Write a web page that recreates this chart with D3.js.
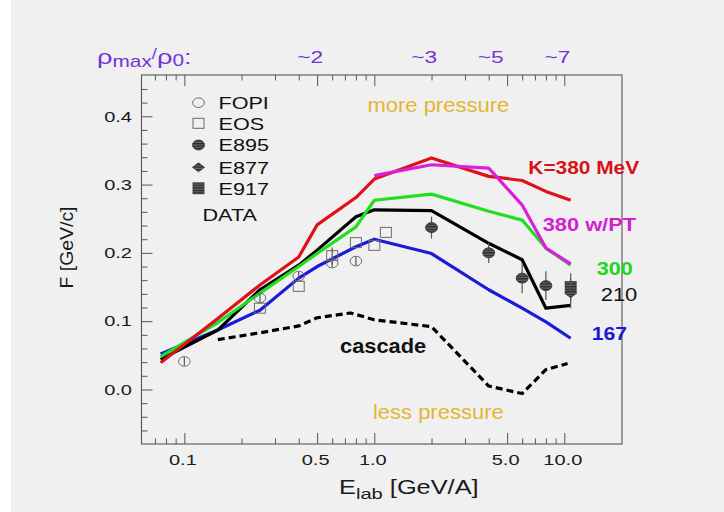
<!DOCTYPE html>
<html>
<head>
<meta charset="utf-8">
<script src="https://cdn.jsdelivr.net/npm/d3@7"></script>
<style>
  html, body { margin: 0; padding: 0; background: #ffffff; }
  svg { display: block; }
</style>
</head>
<body>
<svg id="chart" width="724" height="512"></svg>
<script>
// ---- Model curves: transverse flow F [GeV/c] vs beam energy E_lab [GeV/A] ----
const energies = [0.075, 0.15, 0.25, 0.4, 0.5, 0.8, 1.0, 2.0, 4.0, 6.0, 8.0, 10.8];
const fK380 = [0.039, 0.104, 0.153, 0.194, 0.241, 0.281, 0.308, 0.339, 0.312, 0.306, 0.290, 0.277];
const fK300 = [0.048, 0.098, 0.141, 0.180, 0.199, 0.238, 0.277, 0.286, 0.261, 0.248, 0.207, 0.182];
const fK210 = [0.044, 0.087, 0.146, 0.182, 0.204, 0.253, 0.263, 0.262, 0.214, 0.190, 0.119, 0.123];
const fK167 = [0.052, 0.087, 0.116, 0.163, 0.180, 0.209, 0.220, 0.199, 0.146, 0.119, 0.099, 0.075];

const energiesPT = [1.0, 2.0, 4.0, 6.0, 8.0, 10.8];
const fK380PT = [0.313, 0.329, 0.324, 0.270, 0.207, 0.184];

const energiesCascade = [0.15, 0.25, 0.4, 0.5, 0.75, 1.0, 2.0, 4.0, 6.0, 8.0, 10.4];
const fCascade = [0.073, 0.083, 0.093, 0.105, 0.112, 0.102, 0.092, 0.005, -0.006, 0.029, 0.038];

// ---- Measurements ----
const fopiE = [0.1, 0.25, 0.4, 0.6, 0.8];
const fopiF = [0.041, 0.134, 0.166, 0.185, 0.188];
const fopiErr = [0.006, 0.006, 0.006, 0.006, 0.006];

const eosE = [0.25, 0.4, 0.6, 0.8, 1.0, 1.15];
const eosF = [0.119, 0.151, 0.196, 0.215, 0.211, 0.230];
const eosErr = [0.0, 0.0, 0.012, 0.0, 0.0, 0.0];

const e895E = [2.0, 4.0, 6.0, 8.0];
const e895F = [0.237, 0.200, 0.163, 0.152];
const e895Err = [0.016, 0.015, 0.022, 0.021];

const e877E = [10.8];
const e877F = [0.141];
const e877Err = [0.022];

const e917E = [10.8];
const e917F = [0.150];
const e917Err = [0.020];

// ---- Axis ticks and annotations ----
const xMajorTicks = [0.1, 0.5, 1, 5, 10];
const xTickLabels = ["0.1", "0.5", "1.0", "5.0", "10.0"];
const xMinorTicks = [0.07, 0.08, 0.09, 0.2, 0.3, 0.4, 0.6, 0.7, 0.8, 0.9, 2, 3, 4, 6, 7, 8, 9];
const yMajorTicks = [0.0, 0.1, 0.2, 0.3, 0.4];
const yTickLabels = ["0.0", "0.1", "0.2", "0.3", "0.4"];
const yMinorTicks = [-0.06, -0.04, -0.02, 0.02, 0.04, 0.06, 0.08, 0.12, 0.14, 0.16, 0.18,
                     0.22, 0.24, 0.26, 0.28, 0.32, 0.34, 0.36, 0.38, 0.42, 0.44];
const densityE = [0.46, 1.83, 4.1, 9.2];
const densityLabels = ["~2", "~3", "~5", "~7"];

// ---- Layout ----
const W = 724, H = 512;
const plot = { left: 141.5, right: 622, top: 75, bottom: 444 };
const FONT = "'Liberation Sans', Arial, Helvetica, sans-serif";

const svg = d3.select("#chart");

const x = d3.scaleLog().domain([0.06, 20]).range([142.2, 621.5]);
const y = d3.scaleLinear().domain([-0.08, 0.46]).range([444.1, 75.3]);

// page background
svg.append("rect").attr("x", 0).attr("y", 0).attr("width", W).attr("height", H).attr("fill", "#ffffff");
svg.append("rect").attr("x", 11).attr("y", 0).attr("width", W - 11).attr("height", H).attr("fill", "#f0f0f0");

// patterns for the filled data markers
const defs = svg.append("defs");
const hatch = defs.append("pattern").attr("id", "hatch")
  .attr("patternUnits", "userSpaceOnUse").attr("width", 4).attr("height", 2.6);
hatch.append("rect").attr("width", 4).attr("height", 2.6).attr("fill", "#262626");
hatch.append("line").attr("x1", 0).attr("x2", 4).attr("y1", 1.9).attr("y2", 1.9)
  .attr("stroke", "#9a9a9a").attr("stroke-width", 0.8);

// stretched text helper
function label(g, px, py, text, opts) {
  const o = Object.assign({ size: 14, weight: "normal", fill: "#000", anchor: "start", sx: 1, rotate: 0 }, opts || {});
  const t = g.append("text")
    .attr("transform", `translate(${px},${py}) rotate(${o.rotate}) scale(${o.sx},1)`)
    .attr("font-family", FONT)
    .attr("font-size", o.size)
    .attr("font-weight", o.weight)
    .attr("fill", o.fill)
    .attr("text-anchor", o.anchor);
  if (text !== null) t.text(text);
  return t;
}

// ---- frame and ticks ----
const axes = svg.append("g");

const bottomMajor = d3.axisBottom(x).tickValues(xMajorTicks).tickSize(-11).tickFormat("");
const bottomMinor = d3.axisBottom(x).tickValues(xMinorTicks).tickSize(-5.5).tickFormat("");
const topMajor = d3.axisTop(x).tickValues(xMajorTicks).tickSize(-11).tickFormat("");
const topMinor = d3.axisTop(x).tickValues(xMinorTicks).tickSize(-5.5).tickFormat("");
const leftMajor = d3.axisLeft(y).tickValues(yMajorTicks).tickSize(-11).tickFormat("");
const leftMinor = d3.axisLeft(y).tickValues(yMinorTicks).tickSize(-6).tickFormat("");

function styleAxis(g) {
  g.selectAll("path.domain").remove();
  g.selectAll("line").attr("stroke", "#555").attr("stroke-width", 1);
}
axes.append("g").attr("transform", `translate(0,${plot.bottom})`).call(bottomMajor).call(styleAxis);
axes.append("g").attr("transform", `translate(0,${plot.bottom})`).call(bottomMinor).call(styleAxis);
axes.append("g").attr("transform", `translate(0,${plot.top})`).call(topMajor).call(styleAxis);
axes.append("g").attr("transform", `translate(0,${plot.top})`).call(topMinor).call(styleAxis);
axes.append("g").attr("transform", `translate(${plot.left},0)`).call(leftMajor).call(styleAxis);
axes.append("g").attr("transform", `translate(${plot.left},0)`).call(leftMinor).call(styleAxis);

axes.append("rect")
  .attr("x", plot.left).attr("y", plot.top)
  .attr("width", plot.right - plot.left).attr("height", plot.bottom - plot.top)
  .attr("fill", "none").attr("stroke", "#555").attr("stroke-width", 1.1);

// tick labels
const tickText = svg.append("g");
xMajorTicks.forEach((v, i) => {
  label(tickText, x(v) - 1.5, 464.5, xTickLabels[i], { size: 14.5, anchor: "middle", sx: 1.38, fill: "#1a1a1a" });
});
yMajorTicks.forEach((v, i) => {
  label(tickText, 132, y(v) + 5.3, yTickLabels[i], { size: 14.5, anchor: "end", sx: 1.38, fill: "#1a1a1a" });
});

// axis titles
const xTitle = label(svg, 339, 493.5, null, { size: 19.5, sx: 1.3, fill: "#1a1a1a" });
xTitle.append("tspan").text("E");
xTitle.append("tspan").attr("font-size", 15.5).attr("dy", 5).text("lab");
xTitle.append("tspan").attr("dy", -5).text(" [GeV/A]");

label(svg, 73, 247.5, "F [GeV/c]", { size: 18, anchor: "middle", sx: 1.08, rotate: -90, fill: "#1a1a1a" });

// density annotation along the top
const purple = "#7434d4";
const rho = label(svg, 97, 64, null, { size: 21, sx: 1.3, fill: purple });
rho.append("tspan").text("ρ");
rho.append("tspan").attr("font-size", 16).attr("dy", 3).text("max");
rho.append("tspan").attr("font-size", 14).attr("dy", -8).text("/");
rho.append("tspan").attr("font-size", 21).attr("dy", 5).text("ρ");
rho.append("tspan").attr("font-size", 16).attr("dy", 2).text("0");
rho.append("tspan").attr("font-size", 21).attr("dy", -2).text(":");

densityE.forEach((e, i) => {
  label(svg, x(e), 62.7, densityLabels[i], { size: 16, anchor: "middle", sx: 1.42, fill: purple });
});

// ---- model curves ----
const curves = svg.append("g");
const lineGen = d3.line().x(d => x(d[0])).y(d => y(d[1]));

function curve(es, fs, color, dash) {
  const pts = es.map((e, i) => [e, fs[i]]);
  const p = curves.append("path").datum(pts)
    .attr("d", lineGen)
    .attr("fill", "none")
    .attr("stroke", color)
    .attr("stroke-width", 3.2)
    .attr("stroke-linejoin", "round");
  if (dash) p.attr("stroke-dasharray", dash);
}

const cRed = "#e0101a", cGreen = "#1ee01e", cBlack = "#000000", cBlue = "#1a1ad8", cMagenta = "#dc1edc";
curve(energiesCascade, fCascade, cBlack, "7,4");
curve(energies, fK167, cBlue);
curve(energies, fK210, cBlack);
curve(energies, fK300, cGreen);
curve(energies, fK380, cRed);
curve(energiesPT, fK380PT, cMagenta);

// ---- measurements ----
const marks = svg.append("g");

function drawMarker(g, type, cx, cy) {
  if (type === "fopi") {
    g.append("ellipse").attr("cx", cx).attr("cy", cy).attr("rx", 5.8).attr("ry", 4.8)
      .attr("fill", "none").attr("stroke", "#6a6a6a").attr("stroke-width", 1);
  } else if (type === "eos") {
    g.append("rect").attr("x", cx - 5.5).attr("y", cy - 5).attr("width", 11).attr("height", 10)
      .attr("fill", "none").attr("stroke", "#6a6a6a").attr("stroke-width", 1);
  } else if (type === "e895") {
    g.append("ellipse").attr("cx", cx).attr("cy", cy).attr("rx", 6).attr("ry", 5)
      .attr("fill", "url(#hatch)").attr("stroke", "#333").attr("stroke-width", 0.8);
  } else if (type === "e877") {
    g.append("path")
      .attr("d", `M${cx - 6},${cy} L${cx},${cy - 4.5} L${cx + 6},${cy} L${cx},${cy + 4.5} Z`)
      .attr("fill", "url(#hatch)").attr("stroke", "#333").attr("stroke-width", 0.8);
  } else if (type === "e917") {
    g.append("rect").attr("x", cx - 5.5).attr("y", cy - 5.5).attr("width", 11).attr("height", 11)
      .attr("fill", "url(#hatch)").attr("stroke", "#333").attr("stroke-width", 0.8);
  }
}

function dataset(es, fs, errs, type) {
  es.forEach((e, i) => {
    if (errs[i] > 0) {
      marks.append("line")
        .attr("x1", x(e)).attr("x2", x(e))
        .attr("y1", y(fs[i] - errs[i])).attr("y2", y(fs[i] + errs[i]))
        .attr("stroke", "#555").attr("stroke-width", 1.2);
    }
    drawMarker(marks, type, x(e), y(fs[i]));
  });
}

dataset(fopiE, fopiF, fopiErr, "fopi");
dataset(eosE, eosF, eosErr, "eos");
dataset(e895E, e895F, e895Err, "e895");
dataset(e917E, e917F, e917Err, "e917");
dataset(e877E, e877F, e877Err, "e877");

// ---- legend ----
const legend = svg.append("g");
const legendItems = [
  { type: "fopi", text: "FOPI", cy: 102.7 },
  { type: "eos", text: "EOS", cy: 123.3 },
  { type: "e895", text: "E895", cy: 145 },
  { type: "e877", text: "E877", cy: 167.3 },
  { type: "e917", text: "E917", cy: 188.3 }
];
legendItems.forEach(it => {
  drawMarker(legend, it.type, 198.5, it.cy);
  label(legend, 218.5, it.cy + 6.2, it.text, { size: 17, sx: 1.27, fill: "#111" });
});
label(legend, 202.5, 221, "DATA", { size: 17, sx: 1.27, fill: "#111" });

// ---- curve labels ----
const ann = svg.append("g");
label(ann, 528.3, 174, "K=380 MeV", { size: 18.5, weight: "bold", sx: 1.13, fill: "#d81018" });
label(ann, 542.7, 230.7, "380 w/PT", { size: 18.5, weight: "bold", sx: 1.18, fill: "#d41ed4" });
label(ann, 596.7, 275, "300", { size: 18, weight: "bold", sx: 1.2, fill: "#1ed41e" });
label(ann, 600.7, 300.5, "210", { size: 18, sx: 1.22, fill: "#111" });
label(ann, 591.7, 340, "167", { size: 18, weight: "bold", sx: 1.18, fill: "#1a1ad0" });
label(ann, 340, 353.3, "cascade", { size: 19.5, weight: "bold", sx: 1.12, fill: "#111" });

const gold = "#e2b630";
label(ann, 438.3, 111.7, "more pressure", { size: 20, anchor: "middle", sx: 1.1, fill: gold });
label(ann, 438.3, 419, "less pressure", { size: 20, anchor: "middle", sx: 1.1, fill: gold });
</script>
</body>
</html>
